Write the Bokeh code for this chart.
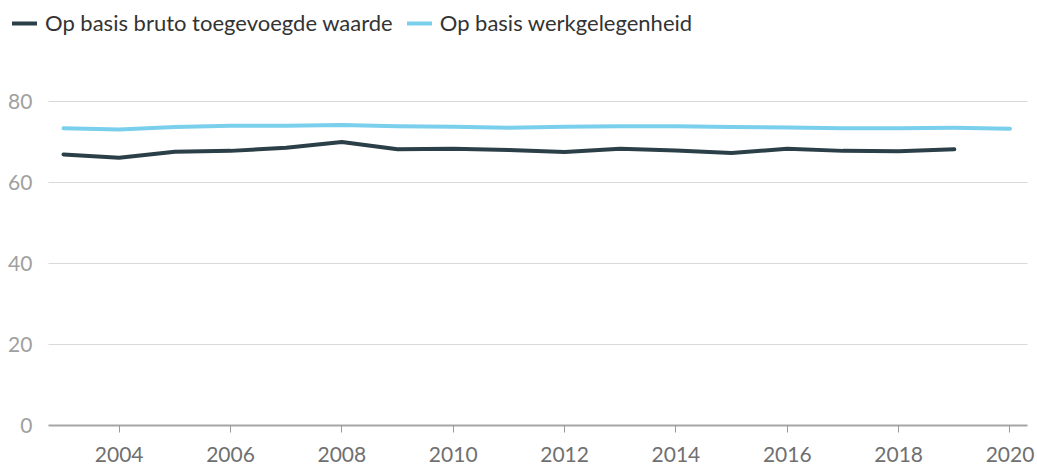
from bokeh.plotting import figure
from bokeh.models import Range1d, FixedTicker, Legend, LegendItem, ColumnDataSource
from bokeh.embed import file_html
from bokeh.resources import INLINE

years = list(range(2003, 2021))
bruto_toegevoegde_waarde = [67.0, 66.2, 67.7, 67.9, 68.7, 70.1, 68.3, 68.4, 68.1, 67.6,
                            68.4, 68.0, 67.4, 68.4, 67.9, 67.8, 68.3]
werkgelegenheid = [73.5, 73.2, 73.8, 74.1, 74.1, 74.3, 74.0, 73.9, 73.6, 73.9,
                   74.0, 74.0, 73.8, 73.7, 73.5, 73.5, 73.6, 73.4]
x_ticks = [2004, 2006, 2008, 2010, 2012, 2014, 2016, 2018, 2020]
y_ticks = [0, 20, 40, 60, 80]
series_names = ["Op basis bruto toegevoegde waarde", "Op basis werkgelegenheid"]

DARK = "#2b3f48"
LIGHT = "#7acfec"
FONT = "Lato"

# plot area edges (data units)
X_LEFT = 2002.7306
X_RIGHT = 2020.314

p = figure(width=1037, height=465, output_backend="svg", toolbar_location=None,
           x_range=Range1d(2001.869, 2020.494), y_range=Range1d(-9.975, 105.12),
           min_border_left=0, min_border_right=0, min_border_top=0, min_border_bottom=0)
p.outline_line_color = None
p.background_fill_color = "white"
p.border_fill_color = "white"

src1 = ColumnDataSource(dict(x=years[:len(bruto_toegevoegde_waarde)], y=bruto_toegevoegde_waarde))
src2 = ColumnDataSource(dict(x=years[:len(werkgelegenheid)], y=werkgelegenheid))
r1 = p.line("x", "y", source=src1, line_color=DARK, line_width=4, line_cap="round", line_join="round")
r2 = p.line("x", "y", source=src2, line_color=LIGHT, line_width=4, line_cap="round", line_join="round")

# x axis drawn at y = 0
xa = p.xaxis[0]
xa.fixed_location = 0
xa.bounds = (X_LEFT, X_RIGHT)
xa.ticker = FixedTicker(ticks=x_ticks)
xa.minor_tick_line_color = None
xa.major_tick_in = 0
xa.major_tick_out = 7
xa.major_tick_line_color = "#999999"
xa.major_tick_line_width = 1
xa.axis_line_color = "#a6a6a6"
xa.axis_line_width = 2
xa.major_label_text_font = FONT
xa.major_label_text_font_size = "21px"
xa.major_label_text_color = "#707070"
xa.major_label_standoff = 15

# y axis drawn at the left edge of the plot area
ya = p.yaxis[0]
ya.fixed_location = X_LEFT
ya.ticker = FixedTicker(ticks=y_ticks)
ya.minor_tick_line_color = None
ya.major_tick_line_color = None
ya.axis_line_color = None
ya.major_label_text_font = FONT
ya.major_label_text_font_size = "21px"
ya.major_label_text_color = "#a0a0a0"
ya.major_label_standoff = 10

p.xgrid.grid_line_color = None
p.ygrid.ticker = FixedTicker(ticks=[20, 40, 60, 80])
p.ygrid.grid_line_color = "#d9d9d9"
p.ygrid.grid_line_width = 1
p.ygrid.cross_bounds = (X_LEFT, X_RIGHT)

legend = Legend(items=[LegendItem(label=series_names[0], renderers=[r1]),
                       LegendItem(label=series_names[1], renderers=[r2])],
                orientation="horizontal", location=(12, 429),
                padding=0, margin=0, spacing=14, label_standoff=8,
                glyph_width=25, glyph_height=20,
                label_text_font=FONT, label_text_font_size="22px", label_text_color="#333333",
                background_fill_alpha=0, border_line_color=None)
p.add_layout(legend, "center")

open("out.html", "w").write(file_html(p, INLINE))
